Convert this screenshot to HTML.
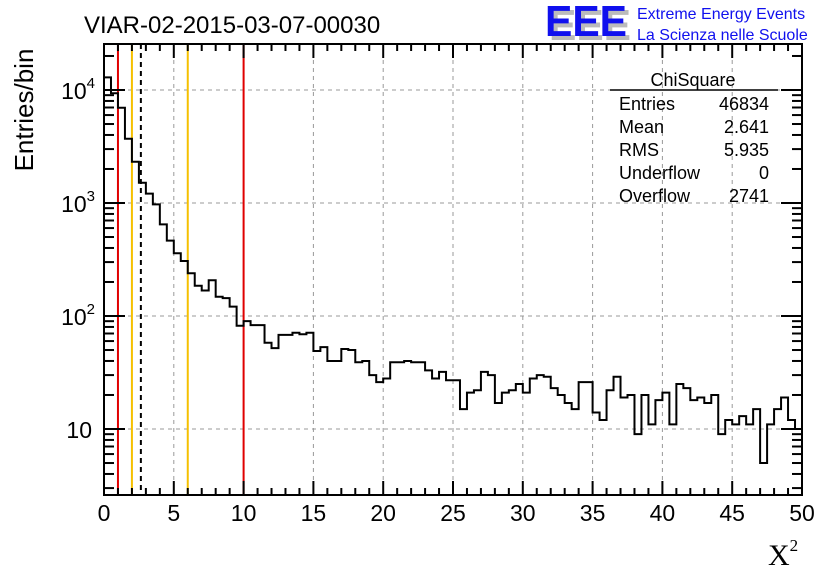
<!DOCTYPE html>
<html><head><meta charset="utf-8"><style>
html,body{margin:0;padding:0;background:#fff;}
svg{display:block;font-family:"Liberation Sans",sans-serif;}
</style></head><body>
<svg id="chart" width="836" height="572" viewBox="0 0 836 572">
<rect width="836" height="572" fill="#fff"/>
<text x="84" y="33" font-size="24" fill="#000">VIAR-02-2015-03-07-00030</text>
<g>
<text x="549" y="40" font-size="44" font-weight="bold" fill="#bbb" textLength="82" lengthAdjust="spacingAndGlyphs">EEE</text>
<text x="545" y="36" font-size="44" font-weight="bold" fill="#1010ee" textLength="82" lengthAdjust="spacingAndGlyphs">EEE</text>
<text x="637" y="19" font-size="16" fill="#1010ee">Extreme Energy Events</text>
<text x="637" y="40" font-size="16" fill="#1010ee">La Scienza nelle Scuole</text>
</g>
<g id="grid"></g>
<g id="lines"></g>
<path id="hist" fill="none" stroke="#000" stroke-width="2"/>
<g id="axes"></g>
<g font-size="18">
<text x="693" y="86" text-anchor="middle">ChiSquare</text>
<line x1="610" y1="90" x2="778" y2="90" stroke="#000" stroke-width="1.5"/>
<text x="619" y="110">Entries</text><text x="769" y="110" text-anchor="end">46834</text>
<text x="619" y="133">Mean</text><text x="769" y="133" text-anchor="end">2.641</text>
<text x="619" y="156">RMS</text><text x="769" y="156" text-anchor="end">5.935</text>
<text x="619" y="179">Underflow</text><text x="769" y="179" text-anchor="end">0</text>
<text x="619" y="202">Overflow</text><text x="769" y="202" text-anchor="end">2741</text>
</g>
<text x="33" y="110" font-size="26" text-anchor="middle" transform="rotate(-90 33 110)">Entries/bin</text>
<text x="768" y="565" font-size="30" font-family="Liberation Serif,serif">X<tspan font-size="17" dy="-14">2</tspan></text>
</svg>
<script>
const counts = [12950,9350,6970,3700,2320,1510,1210,973,647,464,359,307,239,185,168,207,148,144,121,82,90,83,83,58,52,68,68,71,69,71,49,53,40,40,51,50,39,40,30,26,28,39,39,40,39,39,33,28,32,27,27,15,21,22,32,30,17,21,22,25,21,28,30,29,23,20,17,15,26,26,14,12,22,29,19,20,9,20,11,18,21,11,25,23,18,19,17,20,9,12,11,13,11,15,5,11,15,19,12,10];
const xTicks = [0,5,10,15,20,25,30,35,40,45,50];
const yDecades = [1,2,3,4];
const markerValues = [1,2,2.641,6,10];
const markerColors = ['#e00000','#f5c000','#000','#f5c000','#e00000'];
const X0=104,X1=802,Y0=495,Y1=44;
const yDec=113,yRef=90;
function sx(v){return X0+(v/50)*(X1-X0);}
function sy(v){return yRef-(Math.log10(v)-4)*yDec;}
const NS='http://www.w3.org/2000/svg';
function mk(tag,attrs,parent){const e=document.createElementNS(NS,tag);for(const k in attrs)e.setAttribute(k,attrs[k]);parent.appendChild(e);return e;}
const grid=document.getElementById('grid'),axes=document.getElementById('axes'),lines=document.getElementById('lines');
xTicks.forEach(t=>{if(t>0&&t<50){const g=mk('line',{x1:sx(t),x2:sx(t),y1:Y1,y2:Y0,stroke:'#999','stroke-dasharray':'4,4','stroke-width':1},grid);

}});
yDecades.forEach(d=>{const y=sy(Math.pow(10,d));const g=mk('line',{x1:X0,x2:X1,y1:y,y2:y,stroke:'#999','stroke-dasharray':'4,4','stroke-width':1},grid);

});
markerValues.forEach((v,i)=>{const l=mk('line',{x1:sx(v),x2:sx(v),y1:Y1,y2:Y0,stroke:markerColors[i],'stroke-width':2},lines);
if(i===2)l.setAttribute('stroke-dasharray','5,4');

});
const bw=0.5;let d='M'+sx(0)+','+Y0;
counts.forEach((c,i)=>{const y=sy(c);d+=' L'+sx(i*bw)+','+y+' L'+sx((i+1)*bw)+','+y;});
d+=' L'+sx(50)+','+Y0;
document.getElementById('hist').setAttribute('d',d);
const fr=mk('rect',{x:X0,y:Y1,width:X1-X0,height:Y0-Y1,fill:'none',stroke:'#000','stroke-width':2},axes);


for(let t=0;t<=50;t++){const major=t%5===0;const len=major?14:7;const x=sx(t);
mk('line',{x1:x,x2:x,y1:Y0,y2:Y0-len,stroke:'#000','stroke-width':2},axes);
mk('line',{x1:x,x2:x,y1:Y1,y2:Y1+len,stroke:'#000','stroke-width':2},axes);}
xTicks.forEach(t=>{const tx=mk('text',{x:sx(t),y:521,'font-size':23,'text-anchor':'middle'},axes);tx.textContent=t;

});
for(let d0=0;d0<=4;d0++){for(let m=1;m<=9;m++){const v=m*Math.pow(10,d0);const y=sy(v);if(y<Y1||y>Y0)continue;const len=m===1?21:10;
mk('line',{x1:X0,x2:X0+len,y1:y,y2:y,stroke:'#000','stroke-width':2},axes);
mk('line',{x1:X1,x2:X1-len,y1:y,y2:y,stroke:'#000','stroke-width':2},axes);}}
yDecades.forEach(dd=>{const y=sy(Math.pow(10,dd));const tx=mk('text',{x:dd===1?92:95,y:y+9,'font-size':23,'text-anchor':'end'},axes);
if(dd===1){tx.textContent='10';}else{tx.textContent='10';const sp=mk('tspan',{'font-size':15,dy:-11},tx);sp.textContent=dd;}

});
</script>
</body></html>
